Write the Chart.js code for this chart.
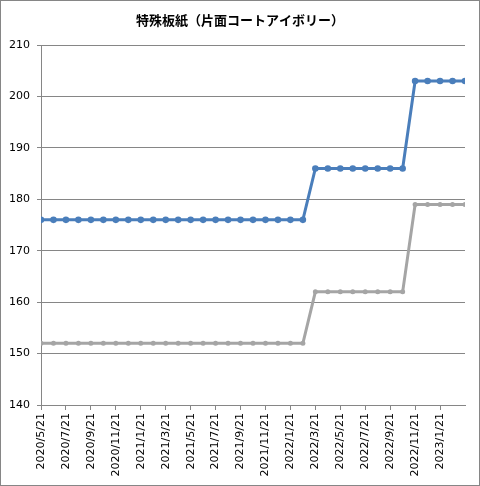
<!DOCTYPE html>
<html><head><meta charset="utf-8">
<script src="https://cdn.jsdelivr.net/npm/chart.js@4"></script>
<style>html,body{margin:0;padding:0;background:#fff}#w{width:480px;height:486px;position:relative}</style>
</head><body><div id="w"><canvas id="c" width="480" height="486"></canvas></div>
<script>
const titleText = '特殊板紙（片面コートアイボリー）';
const months = ['2020/5/21','2020/6/21','2020/7/21','2020/8/21','2020/9/21','2020/10/21','2020/11/21','2020/12/21',
'2021/1/21','2021/2/21','2021/3/21','2021/4/21','2021/5/21','2021/6/21','2021/7/21','2021/8/21','2021/9/21','2021/10/21','2021/11/21','2021/12/21',
'2022/1/21','2022/2/21','2022/3/21','2022/4/21','2022/5/21','2022/6/21','2022/7/21','2022/8/21','2022/9/21','2022/10/21','2022/11/21','2022/12/21',
'2023/1/21','2023/2/21','2023/3/21'];
const tickLabels = ['2020/5/21','2020/7/21','2020/9/21','2020/11/21','2021/1/21','2021/3/21','2021/5/21','2021/7/21','2021/9/21','2021/11/21','2022/1/21','2022/3/21','2022/5/21','2022/7/21','2022/9/21','2022/11/21','2023/1/21'];
const blueSeries = [176,176,176,176,176,176,176,176,176,176,176,176,176,176,176,176,176,176,176,176,176,176,
186,186,186,186,186,186,186,186,203,203,203,203,203];
const graySeries = [152,152,152,152,152,152,152,152,152,152,152,152,152,152,152,152,152,152,152,152,152,152,
162,162,162,162,162,162,162,162,179,179,179,179,179];
const yTicks = [140,150,160,170,180,190,200,210];

const toPts = arr => arr.map((v,i)=>({x:i,y:v}));
const framePlugin = {id:'frame',afterDraw(ch){const c=ch.ctx;c.save();c.strokeStyle='#868686';c.lineWidth=1;c.strokeRect(0.5,0.5,479,485);
  c.fillStyle='#000';c.font='bold 13px "Noto Sans CJK JP"';c.textAlign='center';c.textBaseline='middle';c.fillText(titleText,240,20);c.restore();}};

new Chart(document.getElementById('c'),{
  type:'line',
  data:{datasets:[
    {label:'A',data:toPts(blueSeries),borderColor:'#4A7EBB',backgroundColor:'#4A7EBB',borderWidth:3,pointRadius:3.3,pointBorderWidth:0,pointBackgroundColor:'#4A7EBB',tension:0},
    {label:'B',data:toPts(graySeries),borderColor:'#A5A5A5',backgroundColor:'#A5A5A5',borderWidth:3,pointRadius:2.5,pointBorderWidth:0,pointBackgroundColor:'#A5A5A5',tension:0}
  ]},
  options:{
    responsive:false,animation:false,devicePixelRatio:1,
    layout:{padding:{left:0,right:15,top:45,bottom:0}},
    plugins:{legend:{display:false},tooltip:{enabled:false},title:{display:false}},
    scales:{
      x:{type:'linear',min:0,max:months.length-1,
        afterBuildTicks(s){s.ticks=[];for(let i=0;i<tickLabels.length;i++){s.ticks.push({value:months.indexOf(tickLabels[i])});}},
        afterFit(s){s.height=81;},
        grid:{drawOnChartArea:false,drawTicks:true,tickLength:5,color:'#868686'},
        border:{display:true,color:'#868686'},
        ticks:{autoSkip:false,minRotation:90,maxRotation:90,padding:3,color:'#000',font:{family:'"DejaVu Sans"',size:11},
          callback:(v)=>months[v]}
      },
      y:{min:140,max:210,
        afterBuildTicks(s){s.ticks=yTicks.map(v=>({value:v}));},
        afterFit(s){s.width=41;},
        grid:{color:'#868686',tickLength:4,drawTicks:true},
        border:{display:true,color:'#868686'},
        ticks:{padding:7,color:'#000',font:{family:'"DejaVu Sans"',size:11}}
      }
    }
  },
  plugins:[framePlugin]
});
</script></body></html>
